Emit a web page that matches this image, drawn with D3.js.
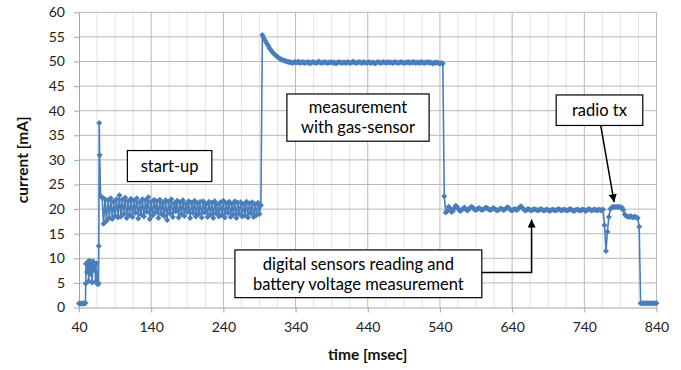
<!DOCTYPE html>
<html lang="en">
<head>
<meta charset="UTF-8">
<title>current trace</title>
<script src="https://d3js.org/d3.v7.min.js"></script>
<style>
  body { margin: 0; background: #fff; }
  svg { display: block; font-family: Lato, "Open Sans", sans-serif; }
</style>
</head>
<body>
<svg></svg>
<script>
const width = 681, height = 370;

// boot phase, irregular sample times (ms) and current (mA)
const bootTime = [40, 41.5, 43, 44.5, 46, 47.5, 49, 49.3, 49.6, 51, 52.2, 53.4, 54.6, 55.8, 57, 58.2,
  59.4, 60.6, 61.8, 63, 64.2, 65.4, 66.6, 67, 67.4, 68, 68.6, 70, 72];
const bootCurrent = [0.8, 0.8, 0.8, 0.8, 0.8, 0.8, 0.9, 4.9, 8.9, 7.2, 9.3, 5.4, 9.5, 6.8, 9.2, 5.1,
  9.4, 7.6, 8.9, 5.3, 9.0, 4.8, 5.0, 4.8, 12.5, 37.5, 31.0, 22.6, 22.4];

// the rest of the trace is sampled every 2 ms
const samplePeriod = 2;

const startupFrom = 74;
const startupCurrent = [
  17.0, 22.0, 17.6, 21.8, 18.2, 22.2, 18.0, 21.5, 18.6, 22.0,
  18.3, 22.8, 18.5, 21.9, 19.0, 22.3, 18.2, 21.6, 18.8, 22.1,
  18.4, 21.7, 19.2, 22.2, 18.1, 21.4, 18.9, 22.0, 18.5, 21.8,
  19.4, 22.4, 18.0, 21.5, 18.7, 21.9, 19.3, 21.6, 18.2, 21.9,
  19.0, 21.3, 18.6, 21.8, 17.8, 21.5, 19.1, 22.0, 18.4, 21.2,
  19.5, 21.7, 18.3, 21.4, 19.0, 21.8, 18.6, 21.1, 19.4, 21.6,
  18.2, 21.3, 19.2, 21.7, 18.5, 21.2, 19.0, 21.5, 18.3, 21.6,
  19.3, 21.0, 18.4, 21.5, 18.9, 21.3, 18.2, 21.6, 19.1, 21.0,
  18.5, 21.4, 18.8, 21.7, 18.3, 21.2, 19.2, 21.5, 18.4, 21.1,
  18.9, 21.6, 18.2, 21.3, 19.0, 21.4, 18.5, 21.0, 18.7, 21.5,
  18.3, 21.2, 19.1, 21.4, 18.4, 21.0, 18.8, 21.3, 19.0, 20.8
];

const gasFrom = 294;
const gasCurrent = [
  55.4, 54.8, 54.2, 53.7, 53.2, 52.7, 52.3, 51.9, 51.6, 51.3,
  51.0, 50.8, 50.6, 50.4, 50.3, 50.2, 50.1, 50.0, 49.9, 49.9,
  49.8, 49.7, 49.9, 49.8, 49.8, 50.0, 49.7, 49.8, 49.9, 49.7,
  49.8, 49.8, 49.9, 49.6, 49.8, 49.9, 49.8, 49.7, 49.8, 50.0,
  49.8, 49.7, 49.8, 49.9, 49.8, 49.7, 49.8, 49.8, 49.9, 49.7,
  49.8, 49.6, 49.8, 49.9, 49.8, 49.7, 49.8, 49.8, 49.7, 49.9,
  49.8, 49.7, 49.8, 50.0, 49.8, 49.7, 49.8, 49.9, 49.8, 49.7,
  49.9, 49.8, 49.7, 49.8, 49.9, 49.7, 49.8, 49.8, 49.6, 49.8,
  49.9, 49.8, 49.7, 49.8, 49.9, 49.8, 49.7, 49.9, 49.8, 49.8,
  49.7, 49.8, 49.9, 49.8, 49.7, 49.8, 49.9, 49.8, 49.7, 49.8,
  49.8, 49.9, 49.7, 49.8, 49.8, 49.9, 49.7, 49.8, 49.8, 49.7,
  49.9, 49.8, 49.7, 49.8, 49.8, 49.9, 49.7, 49.8, 49.6, 49.8,
  49.7, 49.8, 49.7, 49.6, 49.7, 49.6
];

const sensorFrom = 546;
const sensorCurrent = [
  22.6, 19.3, 19.6, 20.5, 20.1, 19.4, 19.6, 20.2, 20.7, 20.4,
  19.9, 19.6, 19.8, 20.1, 20.3, 19.9, 19.7, 19.9, 20.3, 20.5,
  20.2, 19.9, 19.8, 20.0, 20.2, 20.0, 19.8, 19.9, 20.1, 20.3,
  20.1, 19.9, 19.8, 20.0, 20.2, 20.0, 19.8, 19.7, 19.9, 20.1,
  20.0, 19.8, 19.9, 20.2, 20.4, 20.1, 19.8, 19.7, 19.9, 20.0,
  19.8, 19.9, 20.3, 20.6, 20.3, 19.9, 19.7, 19.8, 20.0, 19.9,
  19.7, 19.8, 20.0, 19.9, 19.8, 19.7, 19.9, 20.0, 19.8, 19.7,
  19.8, 19.9, 19.8, 19.6, 19.8, 19.9, 19.8, 19.7, 19.8, 20.0,
  19.9, 19.7, 19.8, 19.9, 19.8, 19.7, 19.8, 20.0, 19.9, 19.7,
  19.6, 19.8, 19.9, 19.8, 19.7, 19.8, 19.9, 19.8, 19.6, 19.8,
  20.0, 19.9, 19.7, 19.8, 19.9, 19.8, 19.7, 19.9, 19.8, 19.7,
  19.9, 16.7, 11.5, 15.4, 18.4, 20.0, 20.3, 20.5, 20.4, 20.5,
  20.4, 20.5, 20.3, 20.3, 19.8, 18.9, 18.6, 18.5, 18.4, 18.6,
  18.4, 18.3, 18.5, 18.3, 18.2, 16.4
];

const offFrom = 818;
const offCurrent = [0.85, 0.85, 0.85, 0.85, 0.85, 0.85, 0.85, 0.85, 0.85, 0.85, 0.85, 0.85];

const xTickValues = [40, 140, 240, 340, 440, 540, 640, 740, 840];
const yTickValues = [0, 5, 10, 15, 20, 25, 30, 35, 40, 45, 50, 55, 60];

// annotations: label lines, box corners [t0, t1] x [mA0, mA1]
const notes = [
  { lines: ["start-up"], box: [107, 224, 25.6, 31.9] },
  { lines: ["measurement", "with gas-sensor"], box: [328, 525, 33.8, 43.4] },
  { lines: ["digital sensors reading and", "battery voltage measurement"], box: [256, 598, 2.0, 11.7] },
  { lines: ["radio tx"], box: [701, 821, 37.0, 43.2] }
];

let points = bootTime.map((t, i) => ({ t: t, v: bootCurrent[i] }));
[[startupFrom, startupCurrent], [gasFrom, gasCurrent], [sensorFrom, sensorCurrent], [offFrom, offCurrent]]
  .forEach(([from, vals]) => {
    vals.forEach((v, i) => points.push({ t: from + i * samplePeriod, v: v }));
  });

const x = d3.scaleLinear().domain([40, 840]).range([79, 656.5]);
const y = d3.scaleLinear().domain([0, 60]).range([307.5, 12.3]);

const svg = d3.select("svg").attr("width", width).attr("height", height);

// grid
const minor = d3.range(40, 841, 25).filter(d => (d - 40) % 100 !== 0);
svg.append("g").selectAll("line").data(minor).join("line")
  .attr("x1", d => x(d)).attr("x2", d => x(d))
  .attr("y1", y(0)).attr("y2", y(60))
  .attr("stroke", "#e4e4e4");
svg.append("g").selectAll("line").data(xTickValues.slice(1)).join("line")
  .attr("x1", d => x(d)).attr("x2", d => x(d))
  .attr("y1", y(0)).attr("y2", y(60))
  .attr("stroke", "#b8b8b8");
svg.append("g").selectAll("line").data(yTickValues.slice(1)).join("line")
  .attr("x1", x(40)).attr("x2", x(840))
  .attr("y1", d => y(d)).attr("y2", d => y(d))
  .attr("stroke", "#b8b8b8");

// axes
const xAxis = svg.append("g")
  .attr("transform", `translate(0,${y(0)})`)
  .call(d3.axisBottom(x).tickValues(xTickValues).tickSize(5).tickPadding(10).tickSizeOuter(0));
const yAxis = svg.append("g")
  .attr("transform", `translate(${x(40)},0)`)
  .call(d3.axisLeft(y).tickValues(yTickValues).tickSize(5).tickPadding(9).tickSizeOuter(0));
[xAxis, yAxis].forEach(a => {
  a.select(".domain").attr("stroke", "#a6a6a6");
  a.selectAll(".tick line").attr("stroke", "#a6a6a6");
  a.selectAll("text").attr("font-size", 14).attr("fill", "#222").attr("font-family", "Lato, sans-serif");
});

svg.append("text")
  .attr("x", (x(40) + x(840)) / 2).attr("y", 360)
  .attr("text-anchor", "middle")
  .attr("font-size", 15.5).attr("font-weight", "bold").attr("fill", "#111")
  .text("time [msec]");
svg.append("text")
  .attr("transform", `translate(28,${(y(0) + y(60)) / 2}) rotate(-90)`)
  .attr("text-anchor", "middle")
  .attr("font-size", 15.5).attr("font-weight", "bold").attr("fill", "#111")
  .text("current [mA]");

// trace
const blue = "#4a7ebb";
const line = d3.line().x(d => x(d.t)).y(d => y(d.v));
svg.append("path").datum(points)
  .attr("d", line)
  .attr("fill", "none")
  .attr("stroke", blue)
  .attr("stroke-width", 1.6);
svg.append("g").selectAll("path").data(points).join("path")
  .attr("transform", d => `translate(${x(d.t)},${y(d.v)})`)
  .attr("d", "M0,-3L3,0L0,3L-3,0Z")
  .attr("fill", blue);

// arrows
svg.append("defs").append("marker")
  .attr("id", "head")
  .attr("viewBox", "0 0 10 10")
  .attr("refX", 10).attr("refY", 5)
  .attr("markerWidth", 9).attr("markerHeight", 8)
  .attr("markerUnits", "userSpaceOnUse")
  .attr("orient", "auto")
  .append("path").attr("d", "M0,0L10,5L0,10Z").attr("fill", "#000");

svg.append("path")
  .attr("d", `M${x(598)},${y(7.1)}H${x(667)}V${y(17.9)}`)
  .attr("fill", "none").attr("stroke", "#000").attr("stroke-width", 1.5)
  .attr("marker-end", "url(#head)");
svg.append("path")
  .attr("d", `M${x(762.7)},${y(37)}L${x(781.3)},${y(21.4)}`)
  .attr("fill", "none").attr("stroke", "#000").attr("stroke-width", 1.5)
  .attr("marker-end", "url(#head)");

// label boxes
notes.forEach(n => {
  const [t0, t1, v0, v1] = n.box;
  const g = svg.append("g");
  g.append("rect")
    .attr("x", x(t0)).attr("y", y(v1))
    .attr("width", x(t1) - x(t0)).attr("height", y(v0) - y(v1))
    .attr("fill", "#fff").attr("stroke", "#000").attr("stroke-width", 1.2);
  const cx = (x(t0) + x(t1)) / 2, cy = (y(v0) + y(v1)) / 2;
  const lh = 20;
  n.lines.forEach((s, i) => {
    g.append("text")
      .attr("x", cx).attr("y", cy + (i - (n.lines.length - 1) / 2) * lh)
      .attr("dy", "0.35em")
      .attr("text-anchor", "middle")
      .attr("font-size", 16.5).attr("fill", "#000")
      .text(s);
  });
});
</script>
</body>
</html>
